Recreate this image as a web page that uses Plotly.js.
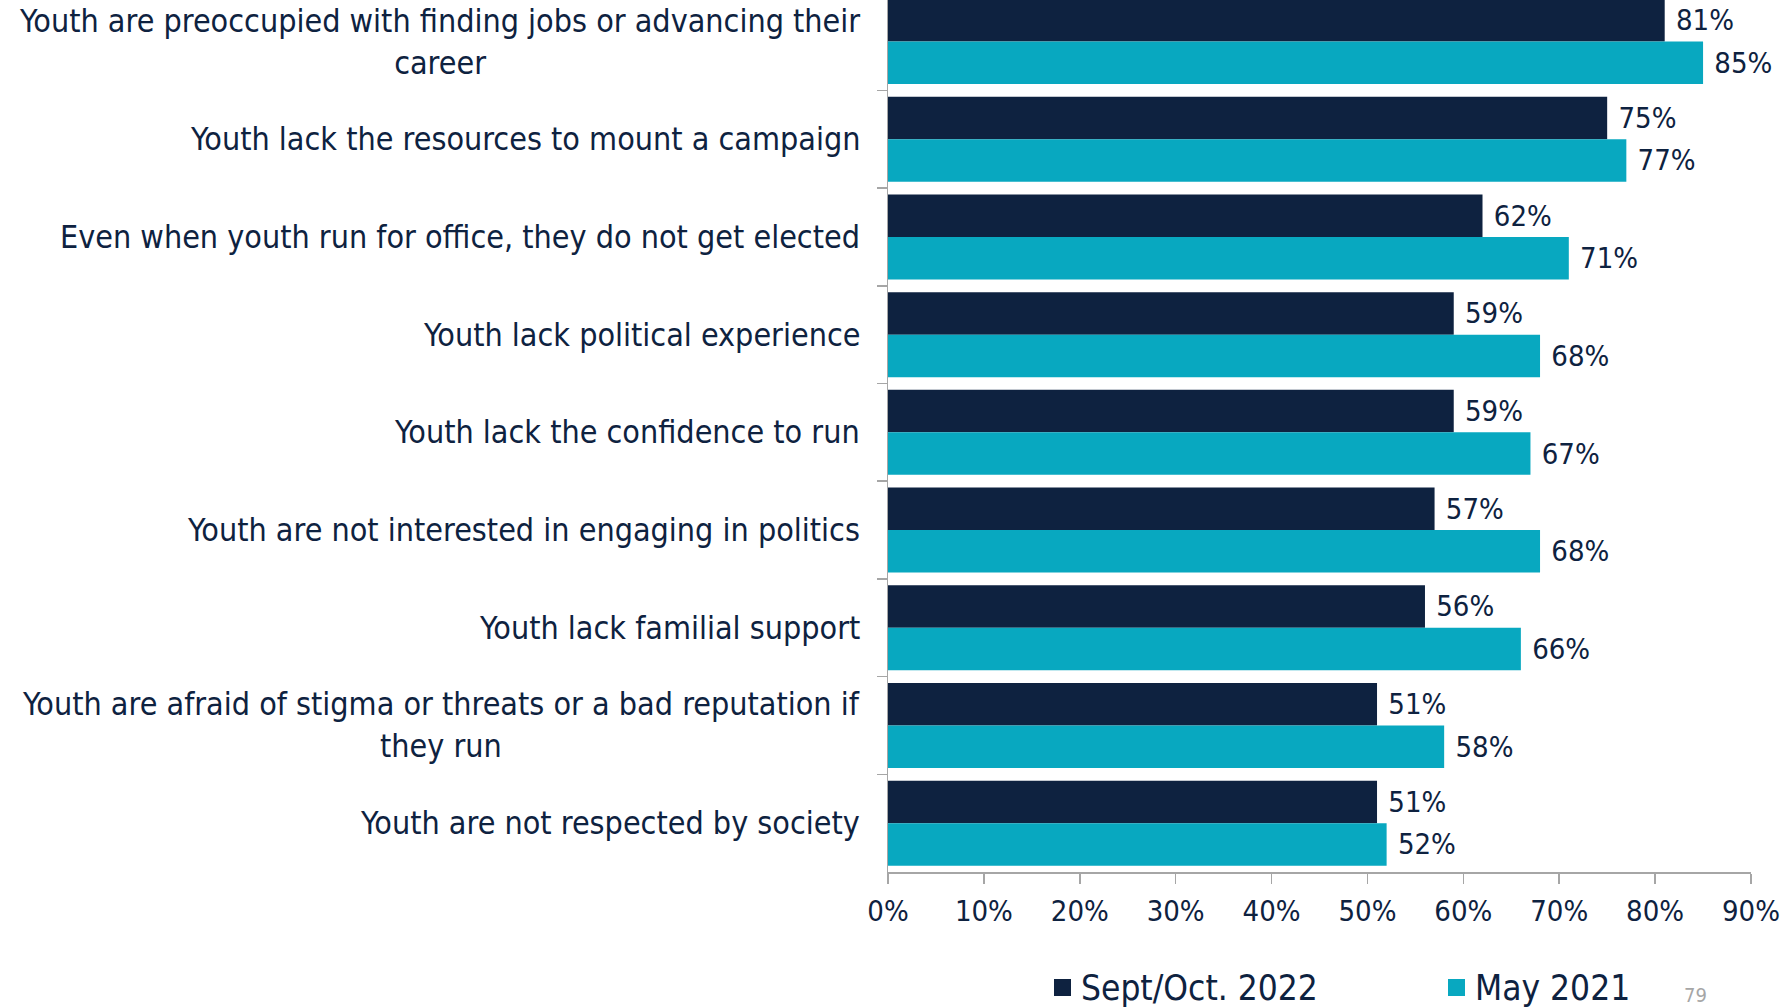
<!DOCTYPE html>
<html>
<head>
<meta charset="utf-8">
<script src="https://cdn.plot.ly/plotly-3.0.1.min.js"></script>
<style>
  html, body { margin: 0; padding: 0; background: #ffffff; }
  #chart { width: 1781px; height: 1008px; }
</style>
</head>
<body>
<div id="chart"></div>
<script>
const categories = [
  "Youth are preoccupied with finding jobs or advancing their<br>career",
  "Youth lack the resources to mount a campaign",
  "Even when youth run for office, they do not get elected",
  "Youth lack political experience",
  "Youth lack the confidence to run",
  "Youth are not interested in engaging in politics",
  "Youth lack familial support",
  "Youth are afraid of stigma or threats or a bad reputation if<br>they run",
  "Youth are not respected by society"
];
const seriesNames = ["Sept/Oct. 2022", "May 2021"];
const sept2022 = [81, 75, 62, 59, 59, 57, 56, 51, 51];
const may2021 = [85, 77, 71, 68, 67, 68, 66, 58, 52];
const xTickValues = [0, 10, 20, 30, 40, 50, 60, 70, 80, 90];
const pageNumber = "79";

const NAVY = "#0E2240";
const TEAL = "#08A8C0";
const AXIS = "#A6A6A6";
const FONT = "DejaVu Sans Condensed, DejaVu Sans, sans-serif";

// plot-area geometry (pixels) used to convert legend placement to paper coords
const PL = 888, PR = 1751, PB = 872;
const px2x = p => (p - PL) / (PR - PL);
const py2y = p => (PB - p) / PB;

function barTrace(name, values, color) {
  return {
    type: "bar",
    orientation: "h",
    name: name,
    x: values,
    y: categories,
    marker: { color: color },
    texttemplate: "\u00a0%{x}%",
    textposition: "outside",
    constraintext: "none",
    cliponaxis: false,
    textfont: { family: FONT, size: 29, color: NAVY },
    hoverinfo: "skip",
    showlegend: false
  };
}

const data = [
  barTrace(seriesNames[0], sept2022, NAVY),
  barTrace(seriesNames[1], may2021, TEAL)
];

const annotations = categories.map(c => ({
  xref: "paper", yref: "y",
  x: 0, y: c,
  xanchor: "right", yanchor: "middle",
  xshift: -26,
  align: "center",
  showarrow: false,
  text: c,
  font: { family: FONT, size: 32, color: NAVY }
}));

// manual legend (text from seriesNames)
const legendColors = [NAVY, TEAL];
const legendBoxLeft = [1054, 1448];
const shapes = [];
seriesNames.forEach((name, i) => {
  shapes.push({
    type: "rect", xref: "paper", yref: "paper",
    x0: px2x(legendBoxLeft[i]), x1: px2x(legendBoxLeft[i] + 17),
    y0: py2y(996), y1: py2y(979),
    fillcolor: legendColors[i], line: { width: 0 }
  });
  annotations.push({
    xref: "paper", yref: "paper",
    x: px2x(legendBoxLeft[i] + 25), y: py2y(988),
    xanchor: "left", yanchor: "middle",
    showarrow: false,
    text: name,
    font: { family: FONT, size: 35, color: NAVY }
  });
});

annotations.push({
  xref: "paper", yref: "paper",
  x: px2x(1695), y: py2y(995),
  xanchor: "center", yanchor: "middle",
  showarrow: false,
  text: pageNumber,
  font: { family: FONT, size: 20, color: "#A6A6A6" }
});

const layout = {
  width: 1781,
  height: 1008,
  margin: { l: PL, r: 1781 - PR, t: 0, b: 1008 - PB, pad: 0 },
  paper_bgcolor: "#ffffff",
  plot_bgcolor: "#ffffff",
  barmode: "group",
  bargap: 0.13,
  bargroupgap: 0,
  showlegend: false,
  xaxis: {
    range: [0, 90],
    tickvals: xTickValues,
    ticktext: xTickValues.map(v => v + "%"),
    ticklabeloverflow: "allow",
    showgrid: false,
    zeroline: false,
    showline: true,
    linecolor: AXIS,
    linewidth: 1.5,
    ticks: "outside",
    ticklen: 10,
    tickwidth: 1.5,
    tickcolor: AXIS,
    ticklabelstandoff: 3,
    tickfont: { family: FONT, size: 29, color: NAVY },
    automargin: false,
    fixedrange: true
  },
  yaxis: {
    type: "category",
    range: [8.5, -0.425],
    showgrid: false,
    zeroline: false,
    showline: true,
    linecolor: AXIS,
    linewidth: 1.5,
    ticks: "outside",
    tickson: "boundaries",
    ticklen: 10,
    tickwidth: 1.5,
    tickcolor: AXIS,
    showticklabels: false,
    automargin: false,
    fixedrange: true
  },
  shapes: shapes,
  annotations: annotations
};

Plotly.newPlot("chart", data, layout, { displayModeBar: false, staticPlot: true });
</script>
</body>
</html>
